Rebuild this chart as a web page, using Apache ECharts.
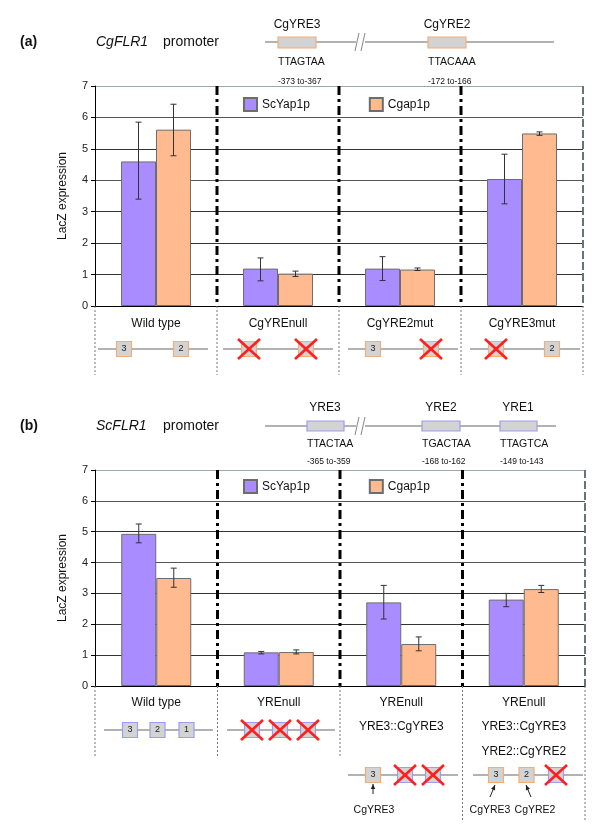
<!DOCTYPE html>
<html><head><meta charset="utf-8">
<script src="https://cdn.jsdelivr.net/npm/echarts@6/dist/echarts.min.js"></script>
<style>html,body{margin:0;padding:0;background:#fff}#c{width:600px;height:827px}</style>
</head><body><div id="c"></div>
<script>
// ---- data ----
const categoriesA = ['Wild type', 'CgYREnull', 'CgYRE2mut', 'CgYRE3mut'];
const scYap1pA = [4.6, 1.19, 1.19, 4.04];
const cgap1pA = [5.61, 1.03, 1.16, 5.49];
const scYap1pAErr = [[3.4, 5.85], [0.8, 1.53], [0.81, 1.57], [3.25, 4.83]];
const cgap1pAErr = [[4.78, 6.42], [0.94, 1.11], [1.13, 1.21], [5.43, 5.54]];

const categoriesB = ['Wild type', 'YREnull', 'YREnull\nYRE3::CgYRE3', 'YREnull\nYRE3::CgYRE3\nYRE2::CgYRE2'];
const scYap1pB = [4.93, 1.09, 2.71, 2.8];
const cgap1pB = [3.5, 1.1, 1.36, 3.14];
const scYap1pBErr = [[4.64, 5.25], [1.04, 1.12], [2.17, 3.26], [2.57, 3.0]];
const cgap1pBErr = [[3.2, 3.82], [1.04, 1.17], [1.14, 1.59], [3.03, 3.26]];

const yTicks = [0, 1, 2, 3, 4, 5, 6, 7];
const seriesNames = ['ScYap1p', 'Cgap1p'];

// ---- styling ----
const FONT = '"Liberation Sans", Arial, Helvetica, sans-serif';
const PURPLE = '#a98cff', ORANGE = '#ffbb8f';
const ORANGE_EDGE = '#f2ae78', BLUE_EDGE = '#9d9cf6';
const BAR_W = 35;

const chart = echarts.init(document.getElementById('c'), null, {renderer: 'canvas'});

function errSeries(name, err, xi, offset) {
  return {
    type: 'custom', name: name, xAxisIndex: xi, yAxisIndex: xi, z: 5, clip: false,
    data: err.map((e, i) => [i, e[0], e[1]]),
    encode: {x: 0, y: [1, 2]},
    renderItem: function (params, api) {
      const c = api.value(0);
      const lo = api.coord([c, api.value(1)]);
      const hi = api.coord([c, api.value(2)]);
      const x = lo[0] + offset;
      const st = {stroke: '#333', lineWidth: 1};
      return {type: 'group', children: [
        {type: 'line', shape: {x1: x, y1: lo[1], x2: x, y2: hi[1]}, style: st},
        {type: 'line', shape: {x1: x - 3, y1: lo[1], x2: x + 3, y2: lo[1]}, style: st},
        {type: 'line', shape: {x1: x - 3, y1: hi[1], x2: x + 3, y2: hi[1]}, style: st}
      ]};
    },
    tooltip: {show: false}
  };
}

function sepSeries(xi, cats, extents) {
  return {
    type: 'custom', xAxisIndex: xi, yAxisIndex: xi, z: 4, clip: false, silent: true,
    data: cats.map((c, i) => [i, 0]),
    encode: {x: 0, y: 1},
    renderItem: function (params, api) {
      const i = api.value(0);
      const base = api.coord([i, 0]);
      const top = api.coord([i, 7]);
      const bw = api.size([1, 0])[0];
      const xr = base[0] + bw / 2;
      const xl = base[0] - bw / 2;
      const ch = [];
      if (i < cats.length - 1) {
        ch.push({type: 'line', shape: {x1: xr, y1: top[1], x2: xr, y2: base[1]},
          style: {stroke: '#000', lineWidth: 3, lineDash: [9, 4, 3, 4]}});
      } else {
        ch.push({type: 'line', shape: {x1: xr, y1: top[1], x2: xr, y2: base[1]},
          style: {stroke: '#6a7478', lineWidth: 2, lineDash: [8, 3]}});
      }
      const dotted = {stroke: '#777', lineWidth: 1, lineDash: [2, 2]};
      ch.push({type: 'line', shape: {x1: xr, y1: base[1], x2: xr, y2: base[1] + extents[i + 1]}, style: dotted});
      if (i === 0) {
        ch.push({type: 'line', shape: {x1: xl, y1: base[1], x2: xl, y2: base[1] + extents[0]}, style: dotted});
      }
      return {type: 'group', children: ch};
    }
  };
}

function barSeries(name, data, xi, color) {
  return {
    type: 'bar', name: name, xAxisIndex: xi, yAxisIndex: xi, data: data,
    barWidth: BAR_W, barGap: '0%', z: 3,
    itemStyle: {color: color, borderColor: '#6d6d6d', borderWidth: 1}
  };
}

function xAxis(gi, cats, margin) {
  return {
    type: 'category', gridIndex: gi, data: cats,
    axisLine: {lineStyle: {color: '#000', width: 1}},
    axisTick: {show: false},
    axisLabel: {margin: margin, fontSize: 12, lineHeight: 24.5, color: '#111', fontFamily: FONT, interval: 0},
    splitLine: {show: false}
  };
}
function yAxis(gi) {
  return {
    type: 'value', gridIndex: gi, min: yTicks[0], max: yTicks[yTicks.length - 1], interval: 1,
    name: 'LacZ expression', nameLocation: 'middle', nameGap: 26, nameRotate: 90,
    nameTextStyle: {fontSize: 12, color: '#111', fontFamily: FONT},
    axisLine: {show: true, lineStyle: {color: '#000'}},
    axisTick: {show: true, length: 4, lineStyle: {color: '#000'}},
    axisLabel: {fontSize: 11, color: '#222', margin: 7, fontFamily: FONT},
    splitLine: {show: true, lineStyle: {color: ['#000', '#333', '#333', '#333', '#555', '#333', '#555', '#98aab0'], width: 1}}
  };
}
function legend(top) {
  return {
    data: seriesNames, left: 243, top: top, padding: 0, itemWidth: 13, itemHeight: 13, itemGap: 59,
    icon: 'rect', textStyle: {fontSize: 12, color: '#111', fontFamily: FONT}, selectedMode: false
  };
}

// ---- diagram helpers (annotations) ----
const G = [];
function txt(x, y, s, font, align, color) {
  G.push({type: 'text', x: x, y: y, silent: true, style: {text: s, font: font, fill: color || '#111',
    textAlign: align || 'left', align: align || 'left', textVerticalAlign: 'middle', verticalAlign: 'middle'}});
}
function ln(x1, y1, x2, y2, color, w) {
  G.push({type: 'line', silent: true, shape: {x1, y1, x2, y2}, style: {stroke: color || '#999', lineWidth: w || 1.5}});
}
function box(x, y, w, h, edge, label) {
  G.push({type: 'rect', silent: true, shape: {x: x, y: y, width: w, height: h}, style: {fill: '#d3d3d3', stroke: edge, lineWidth: 1.2}});
  if (label) txt(x + w / 2, y + h / 2, label, '9px ' + FONT, 'center', '#222');
}
function cross(cx, cy) {
  ln(cx - 11, cy - 10, cx + 11, cy + 10, '#ff1f1f', 2.6);
  ln(cx - 11, cy + 10, cx + 11, cy - 10, '#ff1f1f', 2.6);
}
function smallBox(cx, cy, edge, label) { box(cx - 7.5, cy - 7.5, 15, 15, edge, label); }
function arrow(x1, y1, x2, y2) {
  ln(x1, y1, x2, y2, '#222', 1);
  const a = Math.atan2(y2 - y1, x2 - x1), L = 5, W = 2.2;
  const bx = x2 - L * Math.cos(a), by = y2 - L * Math.sin(a);
  G.push({type: 'polygon', silent: true, shape: {points: [[x2, y2],
    [bx + W * Math.sin(a), by - W * Math.cos(a)], [bx - W * Math.sin(a), by + W * Math.cos(a)]]}, style: {fill: '#222'}});
}
function breakMark(x, y) {
  G.push({type: 'rect', silent: true, shape: {x: x - 4, y: y - 3, width: 9, height: 6}, style: {fill: '#fff'}});
  ln(x - 5, y + 9, x - 1, y - 9, '#888', 1);
  ln(x + 1, y + 9, x + 5, y - 9, '#888', 1);
}

// panel (a) header
txt(20, 42, '(a)', 'bold 14px ' + FONT);
txt(96, 42, 'CgFLR1', 'italic 14px ' + FONT);
txt(163, 42, 'promoter', '14px ' + FONT);
ln(265, 42, 554, 42);
breakMark(360, 42);
box(278, 37, 38, 11, ORANGE_EDGE);
box(428, 37, 38, 11, ORANGE_EDGE);
txt(297, 25, 'CgYRE3', '12px ' + FONT, 'center');
txt(447, 25, 'CgYRE2', '12px ' + FONT, 'center');
txt(278, 62, 'TTAGTAA', '10.5px ' + FONT);
txt(428, 62, 'TTACAAA', '10.5px ' + FONT);
txt(278, 82, '-373 to-367', '8.5px ' + FONT);
txt(428, 82, '-172 to-166', '8.5px ' + FONT);

// panel (a) construct diagrams
const yA = 349;
ln(98, yA, 208, yA); smallBox(124, yA, ORANGE_EDGE, '3'); smallBox(181, yA, ORANGE_EDGE, '2');
ln(223, yA, 333, yA); smallBox(249, yA, ORANGE_EDGE); cross(249, yA); smallBox(306, yA, ORANGE_EDGE); cross(306, yA);
ln(348, yA, 458, yA); smallBox(373, yA, ORANGE_EDGE, '3'); smallBox(431, yA, ORANGE_EDGE); cross(431, yA);
ln(470, yA, 580, yA); smallBox(496, yA, ORANGE_EDGE); cross(496, yA); smallBox(552, yA, ORANGE_EDGE, '2');

// panel (b) header
txt(20, 426, '(b)', 'bold 14px ' + FONT);
txt(96, 426, 'ScFLR1', 'italic 14px ' + FONT);
txt(163, 426, 'promoter', '14px ' + FONT);
ln(265, 426, 556, 426);
breakMark(360, 426);
box(307, 421, 37, 10, BLUE_EDGE);
box(422, 421, 38, 10, BLUE_EDGE);
box(500, 421, 37, 10, BLUE_EDGE);
txt(325, 408, 'YRE3', '12px ' + FONT, 'center');
txt(441, 408, 'YRE2', '12px ' + FONT, 'center');
txt(518, 408, 'YRE1', '12px ' + FONT, 'center');
txt(307, 444, 'TTACTAA', '10.5px ' + FONT);
txt(422, 444, 'TGACTAA', '10.5px ' + FONT);
txt(500, 444, 'TTAGTCA', '10.5px ' + FONT);
txt(307, 462, '-365 to-359', '8.5px ' + FONT);
txt(422, 462, '-168 to-162', '8.5px ' + FONT);
txt(500, 462, '-149 to-143', '8.5px ' + FONT);

// panel (b) construct diagrams
const yB = 730, yB2 = 775;
ln(104, yB, 213, yB); smallBox(130, yB, BLUE_EDGE, '3'); smallBox(157.5, yB, BLUE_EDGE, '2'); smallBox(186.5, yB, BLUE_EDGE, '1');
ln(227, yB, 335, yB);
[252, 280, 308].forEach(x => { smallBox(x, yB, BLUE_EDGE); cross(x, yB); });
ln(348, yB2, 458, yB2); smallBox(373, yB2, ORANGE_EDGE, '3');
[405, 433].forEach(x => { smallBox(x, yB2, BLUE_EDGE); cross(x, yB2); });
arrow(373, 794, 373, 784);
txt(374, 810, 'CgYRE3', '10.5px ' + FONT, 'center');
ln(473, yB2, 583, yB2); smallBox(496, yB2, ORANGE_EDGE, '3'); smallBox(526.5, yB2, ORANGE_EDGE, '2');
smallBox(556, yB2, BLUE_EDGE); cross(556, yB2);
arrow(490, 797, 495, 785);
arrow(531, 797, 526, 785);
txt(490, 810, 'CgYRE3', '10.5px ' + FONT, 'center');
txt(535, 810, 'CgYRE2', '10.5px ' + FONT, 'center');

const option = {
  backgroundColor: '#fff',
  animation: false,
  textStyle: {fontFamily: FONT},
  grid: [
    {left: 95, top: 86, width: 488, height: 220, containLabel: false},
    {left: 95, top: 470, width: 490, height: 216, containLabel: false}
  ],
  legend: [legend(97), legend(479)],
  xAxis: [xAxis(0, categoriesA, 5), xAxis(1, categoriesB, 4)],
  yAxis: [yAxis(0), yAxis(1)],
  series: [
    barSeries(seriesNames[0], scYap1pA, 0, PURPLE),
    barSeries(seriesNames[1], cgap1pA, 0, ORANGE),
    barSeries(seriesNames[0], scYap1pB, 1, PURPLE),
    barSeries(seriesNames[1], cgap1pB, 1, ORANGE),
    errSeries(seriesNames[0], scYap1pAErr, 0, -BAR_W / 2),
    errSeries(seriesNames[1], cgap1pAErr, 0, BAR_W / 2),
    errSeries(seriesNames[0], scYap1pBErr, 1, -BAR_W / 2),
    errSeries(seriesNames[1], cgap1pBErr, 1, BAR_W / 2),
    sepSeries(0, categoriesA, [69, 69, 69, 69, 69]),
    sepSeries(1, categoriesB, [70, 70, 70, 135, 135])
  ],
  graphic: {elements: G}
};
chart.setOption(option);
</script>
</body></html>
